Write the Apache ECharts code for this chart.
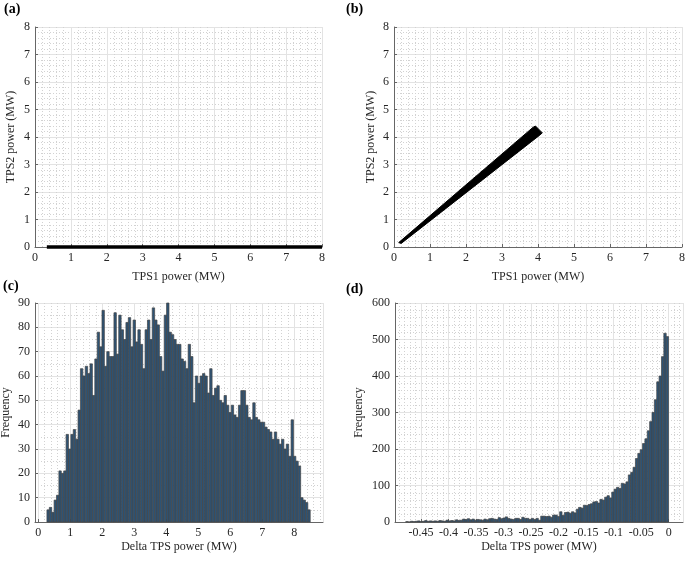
<!DOCTYPE html>
<html><head><meta charset="utf-8">
<script src="https://cdn.jsdelivr.net/npm/echarts@6/dist/echarts.min.js"></script>
<style>html,body{margin:0;padding:0;background:#fff}#c{width:685px;height:563px}</style>
</head><body><div id="c"></div>
<script>
// ---------- texts ----------
const panelLabels = ['(a)', '(b)', '(c)', '(d)'];
const xNameScatter = 'TPS1 power (MW)';
const yNameScatter = 'TPS2 power (MW)';
const xNameHist = 'Delta TPS power (MW)';
const yNameHist = 'Frequency';

// ---------- (a) TPS1 vs TPS2 : TPS2 stays at zero ----------
const tps1A = [0.33, 8.0];
const tps2A = [0, 0];

// ---------- (b) TPS1 vs TPS2 : wedge-shaped point cloud (outline) ----------
const tps1B = [0.13, 3.86, 3.93, 4.12, 4.03, 0.20];
const tps2B = [0.16, 4.35, 4.40, 4.15, 4.05, 0.13];

// ---------- (c) histogram of Delta TPS power ----------
const histCStart = 0.2726;
const histCWidth = 0.0748;
const histCCounts = [
  5,6,4,9,11,21,20,21,36,30,36,38,34,46,63,60,64,61,65,52,
  67,78,72,87,64,70,68,68,86,69,85,79,75,82,84,72,83,74,79,73,
  63,79,83,75,88,83,81,68,62,85,90,78,
  77,75,73,73,67,66,63,73,68,49,60,57,60,61,60,53,63,52,55,56,
  50,49,52,48,45,48,44,43,48,54,54,48,43,42,49,43,42,41,41,39,
  38,37,34,37,34,32,34,30,32,27,42,27,25,23,10,9,8,5
];

// ---------- (d) histogram of Delta TPS power ----------
const histDStart = -0.4775;
const histDWidth = 0.0043;
const histDCounts = [
  1,0,2,1,2,3,1,2,4,2,3,2,
  3,2,4,3,2,5,3,4,3,6,4,
  5,8,7,9,6,8,5,7,6,5,8,
  6,9,10,8,7,12,9,11,14,10,8,
  7,10,10,7,13,10,10,7,10,7,10,5,16,16,15,16,13,19,19,
  15,28,18,26,27,24,28,25,35,40,38,46,45,48,50,55,56,52,62,60,
  68,72,66,82,90,95,92,106,104,110,129,136,150,174,188,198,215,228,250,275,
  300,335,384,400,453,517,508
];

// ---------- styling helpers ----------
const FONT = 'Liberation Serif';
const TXT = '#262626';
const AXIS = '#666666';
const MAJOR = '#e3e3e3';
const MINOR = '#d2d2d2';
const BAR_FILL = '#2e5374';
const BAR_EDGE = '#454545';

function axisCommon(extra) {
  return Object.assign({
    type: 'value',
    axisLine: { show: true, onZero: false, lineStyle: { color: AXIS, width: 1 } },
    axisTick: { show: true, inside: true, length: 3, lineStyle: { color: AXIS } },
    axisLabel: { color: TXT, fontFamily: FONT, fontSize: 12, margin: 5 },
    splitLine: { show: true, lineStyle: { color: MAJOR, width: 1 } },
    minorTick: { show: false, splitNumber: 5 },
    minorSplitLine: { show: true, lineStyle: { color: MINOR, width: 1, type: [1, 2] } },
    nameLocation: 'middle',
    nameTextStyle: { color: TXT, fontFamily: FONT, fontSize: 12 }
  }, extra);
}

const grids = [
  { left: 35, top: 27, width: 287, height: 220 },
  { left: 394, top: 27, width: 288, height: 220 },
  { left: 35, top: 303, width: 288, height: 219 },
  { left: 395, top: 303, width: 288, height: 219 }
].map(g => Object.assign({ outerBoundsMode: 'none', containLabel: false }, g));

const xAxes = [
  axisCommon({ gridIndex: 0, min: 0, max: 8, interval: 1, name: xNameScatter, nameGap: 24 }),
  axisCommon({ gridIndex: 1, min: 0, max: 8, interval: 1, name: xNameScatter, nameGap: 24 }),
  axisCommon({ gridIndex: 2, min: -0.1, max: 8.9, splitNumber: 9, name: xNameHist, nameGap: 19,
    axisLabel: { color: TXT, fontFamily: FONT, fontSize: 12, margin: 5, showMinLabel: false, showMaxLabel: false } }),
  axisCommon({ gridIndex: 3, min: -0.497, max: 0.026, splitNumber: 10, name: xNameHist, nameGap: 19,
    axisLabel: { color: TXT, fontFamily: FONT, fontSize: 12, margin: 5, showMinLabel: false, showMaxLabel: false } })
];

const yAxes = [
  axisCommon({ gridIndex: 0, min: 0, max: 8, interval: 1, name: yNameScatter, nameGap: 18 }),
  axisCommon({ gridIndex: 1, min: 0, max: 8, interval: 1, name: yNameScatter, nameGap: 17 }),
  axisCommon({ gridIndex: 2, min: 0, max: 90, interval: 10, name: yNameHist, nameGap: 23,
    minorTick: { show: false, splitNumber: 2 } }),
  axisCommon({ gridIndex: 3, min: 0, max: 600, interval: 100, name: yNameHist, nameGap: 30 })
];

function histSeries(idx, start, width, counts) {
  const data = counts.map((c, i) => [start + i * width, start + (i + 1) * width, c]);
  return {
    type: 'custom', xAxisIndex: idx, yAxisIndex: idx, data: data,
    encode: { x: [0, 1], y: 2 }, silent: true,
    renderItem: function (params, api) {
      const p0 = api.coord([api.value(0), api.value(2)]);
      const p1 = api.coord([api.value(1), 0]);
      return {
        type: 'rect',
        shape: { x: p0[0], y: p0[1], width: p1[0] - p0[0], height: p1[1] - p0[1] },
        style: { fill: BAR_FILL, stroke: BAR_EDGE, lineWidth: 0.7 }
      };
    }
  };
}

const wedgeSeries = {
  type: 'custom', xAxisIndex: 1, yAxisIndex: 1, silent: true,
  data: tps1B.map((x, i) => [x, tps2B[i]]),
  renderItem: function (params, api) {
    if (params.dataIndex !== 0) return null;
    const pts = tps1B.map((x, i) => api.coord([x, tps2B[i]]));
    return { type: 'polygon', shape: { points: pts }, style: { fill: '#000', stroke: '#000', lineWidth: 1 } };
  }
};

const lineSeries = {
  type: 'line', xAxisIndex: 0, yAxisIndex: 0, clip: false, symbol: 'none', silent: true,
  data: tps1A.map((x, i) => [x, tps2A[i]]),
  lineStyle: { color: '#000', width: 3.5 }, z: 5
};

const titles = [
  { text: panelLabels[0], left: 4, top: 2 },
  { text: panelLabels[1], left: 346, top: 2 },
  { text: panelLabels[2], left: 3, top: 279 },
  { text: panelLabels[3], left: 346, top: 282 }
].map(t => Object.assign({ padding: 0, textStyle: { fontFamily: FONT, fontSize: 14, fontWeight: 'bold', color: '#000' } }, t));

const chart = echarts.init(document.getElementById('c'), null, { renderer: 'canvas' });
chart.setOption({
  animation: false,
  backgroundColor: '#fff',
  title: titles,
  grid: grids,
  xAxis: xAxes,
  yAxis: yAxes,
  series: [
    lineSeries,
    wedgeSeries,
    histSeries(2, histCStart, histCWidth, histCCounts),
    histSeries(3, histDStart, histDWidth, histDCounts)
  ]
});
</script>
</body></html>
